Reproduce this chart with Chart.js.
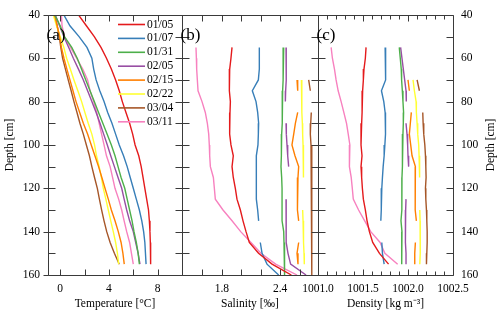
<!DOCTYPE html>
<html><head><meta charset="utf-8">
<script src="https://cdn.jsdelivr.net/npm/chart.js@4.4.1/dist/chart.umd.min.js"></script>
<style>html,body{margin:0;padding:0;background:#fff;}#wrap{position:relative;width:500px;height:314px;}</style>
</head><body><div id="wrap"><canvas id="c" width="500" height="314"></canvas></div>
<script>
// ---------- data ----------
const dates = ['01/05','01/07','01/31','02/05','02/15','02/22','03/04','03/11'];
const seriesColors = ['#e41a1c','#377eb8','#4daf4a','#984ea3','#ff7f00','#ffff33','#a65628','#f781bf'];

const depthTicks = [40,50,60,70,80,90,100,110,120,130,140,150,160];
const depthLabels = [40,60,80,100,120,140,160];
const tempTicks = [0,2,4,6,8];
const tempLabels = [0,4,8];
const salTicks = [1.6,1.8,2.0,2.2,2.4,2.6];
const salLabels = [1.8,2.4];
const densTicks = [1001.1,1001.2,1001.3,1001.4,1001.5,1001.6,1001.7,1001.8,1001.9,1002.0,1002.1,1002.2,1002.3,1002.4];
const densLabels = [1001.0,1001.5,1002.0,1002.5];

// (a) temperature profiles
const tempDepth = [40,45,50,55,60,65,70,75,80,85,90,95,100,105,110,115,120,125,130,135,140,145,150,155];
const temp0105 = [1.5,2.15,2.8,3.35,3.8,4.2,4.55,4.85,5.1,5.4,5.7,5.95,6.15,6.45,6.65,6.8,6.95,7.1,7.25,7.32,7.37,7.4,7.42,7.43];
const temp0107 = [0.3,0.8,1.55,2.2,2.6,2.75,2.95,3.25,3.6,3.9,4.25,4.55,4.85,5.2,5.5,5.75,6.0,6.25,6.5,6.7,6.85,6.95,7.0,7.05];
const temp0131 = [-0.45,0.0,0.35,0.95,1.4,1.75,2.1,2.45,2.8,3.15,3.5,3.85,4.2,4.5,4.75,5.0,5.3,5.5,5.7,5.9,6.06,6.25,6.4,6.5];
const temp0205 = [-0.4,-0.05,0.3,0.7,1.08,1.5,1.9,2.25,2.6,2.95,3.27,3.57,3.87,4.15,4.45,4.75,5.05,5.25,5.46,5.7,6.0,6.2,6.4,6.55];
const temp0215 = [-0.45,-0.25,-0.05,0.1,0.31,0.55,0.8,1.05,1.3,1.6,1.9,2.25,2.55,2.85,3.15,3.42,3.68,3.95,4.2,4.5,4.77,5.0,5.15,5.26];
const temp0222 = [-0.57,-0.3,0.0,0.3,0.53,0.83,1.13,1.45,1.76,2.03,2.3,2.6,2.82,2.98,3.2,3.38,3.54,3.75,3.95,4.15,4.36,4.55,4.7,4.8];
const temp0304 = [-0.45,-0.25,-0.07,0.05,0.2,0.43,0.66,0.9,1.13,1.38,1.62,1.9,2.15,2.4,2.6,2.82,3.05,3.22,3.4,3.6,3.82,4.1,4.45,4.85];
const temp0311 = [0.1,0.15,0.35,0.85,1.35,1.85,2.25,2.45,2.75,3.0,3.2,3.4,3.6,3.8,4.1,4.3,4.5,4.8,5.05,5.25,5.46,5.7,5.85,6.0];

// (b) salinity and (c) density profiles (null = no sample)
const profDepth = [55,60,65,70,75,80,85,90,95,100,105,110,115,120,125,130,135,140,145,150,155,160];
const sal0105 = [1.905,1.894,1.881,1.874,1.881,1.888,1.884,1.877,1.884,1.894,1.918,1.905,1.918,1.939,1.956,1.991,2.018,2.049,2.083,2.178,2.317,2.516];
const sal0107 = [2.186,2.186,2.186,2.176,2.114,2.152,2.169,2.179,2.176,2.172,2.155,2.152,2.152,2.155,2.162,2.169,2.179,null,2.196,2.214,2.265,2.385];
const sal0131 = [2.437,2.433,2.430,2.430,2.426,2.423,2.423,2.420,2.416,2.413,2.413,2.409,2.416,2.420,2.420,2.420,2.420,2.437,2.440,2.444,2.446,2.447];
const sal0205 = [2.461,2.461,2.464,2.464,2.457,2.454,null,2.461,2.464,2.471,2.478,2.488,null,null,2.461,2.461,2.461,2.464,2.464,2.481,2.508,2.667];
const sal0215 = [null,null,null,2.574,2.581,null,2.581,2.557,2.540,2.522,2.553,2.591,2.584,2.574,2.577,2.584,2.591,null,2.591,2.574,2.584,null];
const sal0222 = [null,null,null,2.619,2.622,2.624,2.625,2.629,2.632,2.636,2.639,2.639,2.643,null,null,2.632,2.636,2.639,2.643,2.646,2.649,null];
const sal0304 = [null,null,null,2.694,2.711,null,2.721,2.715,2.711,2.718,2.721,2.725,2.728,2.728,2.725,2.721,2.725,2.728,2.728,2.728,2.728,2.728];
const sal0311 = [1.534,1.538,1.541,1.548,1.555,1.596,1.630,1.651,1.665,1.671,1.675,1.682,1.713,1.723,1.733,1.812,1.905,1.994,2.100,2.203,2.354,2.574];

const dens0105 = [1001.534,1001.526,1001.511,1001.504,1001.496,1001.491,1001.489,1001.485,1001.478,1001.478,1001.489,1001.478,1001.485,1001.493,1001.504,1001.526,1001.545,1001.571,1001.608,1001.683,1001.784,null];
const dens0107 = [1001.746,1001.750,1001.754,1001.750,1001.705,1001.731,1001.746,1001.754,1001.746,1001.743,1001.735,1001.724,1001.716,1001.709,1001.705,1001.701,1001.698,null,1001.709,1001.716,1001.735,null];
const dens0131 = [1001.903,1001.914,1001.925,1001.929,1001.937,1001.944,1001.951,1001.948,1001.944,1001.940,1001.937,1001.937,1001.933,1001.933,1001.933,1001.929,1001.922,1001.933,1001.933,1001.933,1001.925,null];
const dens0205 = [1001.918,1001.933,1001.948,1001.963,1001.978,1001.981,null,1001.978,1001.989,1001.996,1002.000,1002.007,null,null,1001.978,1001.974,1001.970,1001.970,1001.974,1001.978,1001.978,null];
const dens0215 = [null,null,null,1002.000,1002.015,null,1002.037,1002.026,1002.015,1002.030,1002.045,1002.082,1002.082,1002.082,1002.078,1002.078,1002.093,null,1002.082,1002.075,1002.075,null];
const dens0222 = [null,null,null,1002.056,1002.071,1002.090,1002.093,1002.101,1002.108,1002.119,1002.123,1002.127,1002.131,null,null,1002.131,1002.134,1002.136,1002.138,1002.134,1002.131,null];
const dens0304 = [null,null,null,1002.101,1002.127,null,1002.164,1002.168,1002.175,1002.187,1002.194,1002.198,1002.201,1002.194,1002.198,1002.205,1002.209,1002.213,1002.213,1002.209,1002.205,null];
const dens0311 = [1001.146,1001.160,1001.183,1001.201,1001.224,1001.257,1001.287,1001.317,1001.336,1001.354,1001.351,1001.347,1001.369,1001.381,1001.392,1001.451,1001.519,1001.586,1001.690,1001.743,1001.885,null];

const tempSeries = [temp0105,temp0107,temp0131,temp0205,temp0215,temp0222,temp0304,temp0311];
const salSeries = [sal0105,sal0107,sal0131,sal0205,sal0215,sal0222,sal0304,sal0311];
const densSeries = [dens0105,dens0107,dens0131,dens0205,dens0215,dens0222,dens0304,dens0311];

// ---------- chart ----------
const FONT = "'Liberation Serif', 'Times New Roman', serif";
Chart.defaults.font.family = FONT;
Chart.defaults.font.size = 11.5;
Chart.defaults.color = '#000';

function mk(label, depth, vals, axis, color) {
  return {
    label, xAxisID: axis, yAxisID: 'y',
    data: depth.map((d, j) => ({x: vals[j], y: d})),
    borderColor: color, backgroundColor: color,
    borderWidth: 1.4, pointRadius: 0, tension: 0, spanGaps: false, fill: false
  };
}
const datasets = [];
dates.forEach((d, i) => datasets.push(mk(d, tempDepth, tempSeries[i], 'xA', seriesColors[i])));
dates.forEach((d, i) => datasets.push(mk(d, profDepth, salSeries[i], 'xB', seriesColors[i])));
dates.forEach((d, i) => datasets.push(mk(d, profDepth, densSeries[i], 'xC', seriesColors[i])));

const setTicks = arr => s => { s.ticks = arr.map(v => ({value: v})); };
function xAxis(min, max, weight, labels, title, fmt) {
  return {
    type: 'linear', position: 'bottom', stack: 'panels', stackWeight: weight,
    min, max, afterBuildTicks: setTicks(labels),
    grid: {display: false, drawTicks: false}, border: {display: false},
    ticks: {autoSkip: false, maxRotation: 0, minRotation: 0, padding: 7, callback: fmt},
    title: {display: true, text: title, padding: {top: 0, bottom: 3.6}},
    afterFit: s => { s.height = 39; }
  };
}

const overlay = {
  id: 'overlay',
  afterDatasetsDraw(chart) {
    const ctx = chart.ctx, ca = chart.chartArea, yS = chart.scales.y;
    const T = Math.round(ca.top) + 0.5, B = Math.round(ca.bottom) + 0.5;
    const panels = [
      {id: 'xA', ticks: tempTicks, labels: tempLabels, tag: '(a)'},
      {id: 'xB', ticks: salTicks, labels: salLabels, tag: '(b)'},
      {id: 'xC', ticks: densTicks, labels: densLabels, tag: '(c)'}
    ];
    const isIn = (arr, v) => arr.some(a => Math.abs(a - v) < 1e-6);
    ctx.save();
    ctx.strokeStyle = '#3a3a3a';
    ctx.lineWidth = 1;
    ctx.beginPath();
    panels.forEach((p, k) => {
      const s = chart.scales[p.id];
      const L = Math.round(s.left) + 0.5, R = Math.round(s.right) + 0.5;
      ctx.rect(L, T, R - L, B - T);
      depthTicks.forEach(d => {
        const y = Math.round(yS.getPixelForValue(d)) + 0.5;
        ctx.moveTo(L, y); ctx.lineTo(L + 7, y);
        ctx.moveTo(R, y); ctx.lineTo(R - 7, y);
        if (k === 0 && isIn(depthLabels, d)) { ctx.moveTo(L - 5, y); ctx.lineTo(L, y); }
      });
      p.ticks.forEach(v => {
        const x = Math.round(s.getPixelForValue(v)) + 0.5;
        const len = (k === 2 && !isIn(p.labels, v)) ? 4 : 6;
        ctx.moveTo(x, B); ctx.lineTo(x, B - len);
        ctx.moveTo(x, T); ctx.lineTo(x, T + len);
      });
    });
    ctx.stroke();

    // panel tags
    ctx.fillStyle = '#000';
    ctx.font = "17px " + FONT;
    ctx.textAlign = 'left';
    ctx.textBaseline = 'alphabetic';
    panels.forEach(p => {
      const s = chart.scales[p.id];
      ctx.fillText(p.tag, s.left - 1.5, ca.top + 25.5);
    });

    // legend inside panel (a)
    const sA = chart.scales.xA;
    ctx.font = "11.5px " + FONT;
    ctx.textBaseline = 'middle';
    for (let i = 0; i < dates.length; i++) {
      const ds = chart.data.datasets[i];
      const y = 24.5 + i * 13.9;
      ctx.strokeStyle = ds.borderColor;
      ctx.lineWidth = 1.6;
      ctx.beginPath();
      ctx.moveTo(sA.right - 64, y); ctx.lineTo(sA.right - 37, y);
      ctx.stroke();
      ctx.fillStyle = '#000';
      ctx.fillText(ds.label, sA.right - 35, y);
    }

    // right axis title (reads bottom-to-top like the left one)
    ctx.save();
    ctx.translate(491, (ca.top + ca.bottom) / 2);
    ctx.rotate(-Math.PI / 2);
    ctx.textAlign = 'center';
    ctx.textBaseline = 'middle';
    ctx.font = "11.5px " + FONT;
    ctx.fillText('Depth [cm]', 0, 0);
    ctx.restore();
    ctx.restore();
  }
};

new Chart(document.getElementById('c'), {
  type: 'line',
  data: {datasets},
  plugins: [overlay],
  options: {
    indexAxis: 'y',
    responsive: false,
    maintainAspectRatio: false,
    animation: false,
    events: [],
    layout: {padding: {top: 9, left: 0, right: 0, bottom: 0}},
    plugins: {legend: {display: false}, tooltip: {enabled: false}},
    scales: {
      xA: xAxis(-1, 10, 134, tempLabels, 'Temperature [°C]', v => String(v)),
      xB: xAxis(1.39, 2.79, 136, salLabels, 'Salinity [‰]', v => v.toFixed(1)),
      xC: xAxis(1001.0, 1002.5, 135, densLabels, 'Density [kg m⁻³]', v => v.toFixed(1)),
      y: {
        type: 'linear', position: 'left', reverse: true, min: 40, max: 160,
        afterBuildTicks: setTicks(depthLabels),
        grid: {display: false, drawTicks: false}, border: {display: false},
        ticks: {padding: 8, callback: v => String(v)},
        title: {display: true, text: 'Depth [cm]', padding: {top: 3.1, bottom: 0}},
        afterFit: s => { s.width = 48; }
      },
      yR: {
        type: 'linear', position: 'right', reverse: true, min: 40, max: 160,
        afterBuildTicks: setTicks(depthLabels),
        grid: {display: false, drawTicks: false}, border: {display: false},
        ticks: {padding: 8, callback: v => String(v)},
        title: {display: false},
        afterFit: s => { s.width = 47; }
      }
    }
  }
});
</script>
</body></html>
